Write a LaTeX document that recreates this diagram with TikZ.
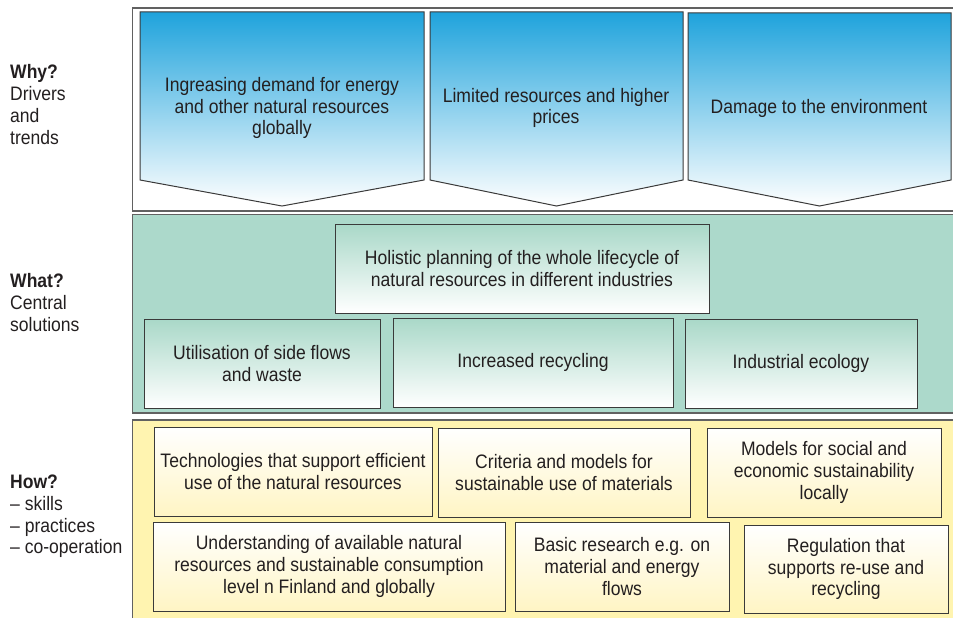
\documentclass[tikz,border=0pt]{standalone}
\usepackage{fontspec}
\setmainfont{Liberation Sans}[FakeStretch=0.90]
\definecolor{txt}{HTML}{231F20}
\definecolor{edge}{HTML}{3A3A3A}
\definecolor{blueTop}{HTML}{1FA3DC}
\definecolor{tealPanel}{HTML}{ACD9CB}
\definecolor{tealTop}{HTML}{A9D8C8}
\definecolor{yellowPanel}{HTML}{FFF4B0}
\definecolor{creamBot}{HTML}{FFF5C4}
\begin{document}
\begin{tikzpicture}[x=1pt,y=-1pt,
  every node/.style={text=txt, font=\fontsize{19.5}{21.8}\selectfont, align=center, inner sep=0pt},
  panel/.style={draw=edge!80, line width=1.3pt},
  chevron/.style={draw=edge, line width=1pt, top color=blueTop, bottom color=white},
  whatbox/.style={draw=edge, line width=1pt, top color=tealTop, bottom color=white},
  howbox/.style={draw=edge, line width=1pt, top color=white, bottom color=creamBot},
  sidelabel/.style={anchor=west, align=left}
]
\useasboundingbox (0,0) rectangle (953,618);
% panels
\path[panel, fill=white] (132.5,8) rectangle (960,211);
\path[panel, fill=tealPanel] (132.5,214.5) rectangle (960,413);
\path[panel, fill=yellowPanel] (132.5,420) rectangle (960,625);

% Why chevrons
\path[chevron] (140,12) -- (424,12) -- (424,180) -- (282,206) -- (140,180) -- cycle;
\path[chevron] (430,12) -- (683,12) -- (683,180) -- (556.5,206) -- (430,180) -- cycle;
\path[chevron] (688,13) -- (951,13) -- (951,180) -- (819.5,206) -- (688,180) -- cycle;
\node (d1) at (282,108) {Ingreasing demand for energy\\and other natural resources\\globally};
\node (d2) at (556,108) {Limited resources and higher\\prices};
\node (d3) at (819,108) {Damage to the environment};

% What boxes
\node[whatbox, minimum width=374pt, minimum height=89pt] (holistic) at (522,268.5) {Holistic planning of the whole lifecycle of\\natural resources in different industries};
\node[whatbox, minimum width=236pt, minimum height=89pt] (util) at (262,363.5) {Utilisation of side flows\\and waste};
\node[whatbox, minimum width=280pt, minimum height=89pt] (recyc) at (533,362.5) {Increased recycling};
\node[whatbox, minimum width=232pt, minimum height=89pt] (indeco) at (801,363.5) {Industrial ecology};

% How boxes
\node[howbox, minimum width=278pt, minimum height=89pt] (tech) at (293,471.5) {Technologies that support efficient\\use of the natural resources};
\node[howbox, minimum width=252pt, minimum height=89pt] (crit) at (564,472.5) {Criteria and models for\\sustainable use of materials};
\node[howbox, minimum width=234pt, minimum height=89pt] (models) at (824,472.5) {Models for social and\\economic sustainability\\locally};
\node[howbox, minimum width=352pt, minimum height=89pt] (under) at (329,566.5) {Understanding of available natural\\resources and sustainable consumption\\level n Finland and globally};
\node[howbox, minimum width=214pt, minimum height=89pt] (basic) at (622,566.5) {Basic research e.g. on\\material and energy\\flows};
\node[howbox, minimum width=204pt, minimum height=88pt] (reg) at (846,569) {Regulation that\\supports re-use and\\recycling};

% side labels
\node[sidelabel] (why) at (10,104.5) {\textbf{Why?}\\Drivers\\and\\trends};
\node[sidelabel] (what) at (10,302.5) {\textbf{What?}\\Central\\solutions};
\node[sidelabel] (how) at (10,516.5) {\textbf{How?}\\-- skills\\-- practices\\-- co-operation};
\end{tikzpicture}
\end{document}
